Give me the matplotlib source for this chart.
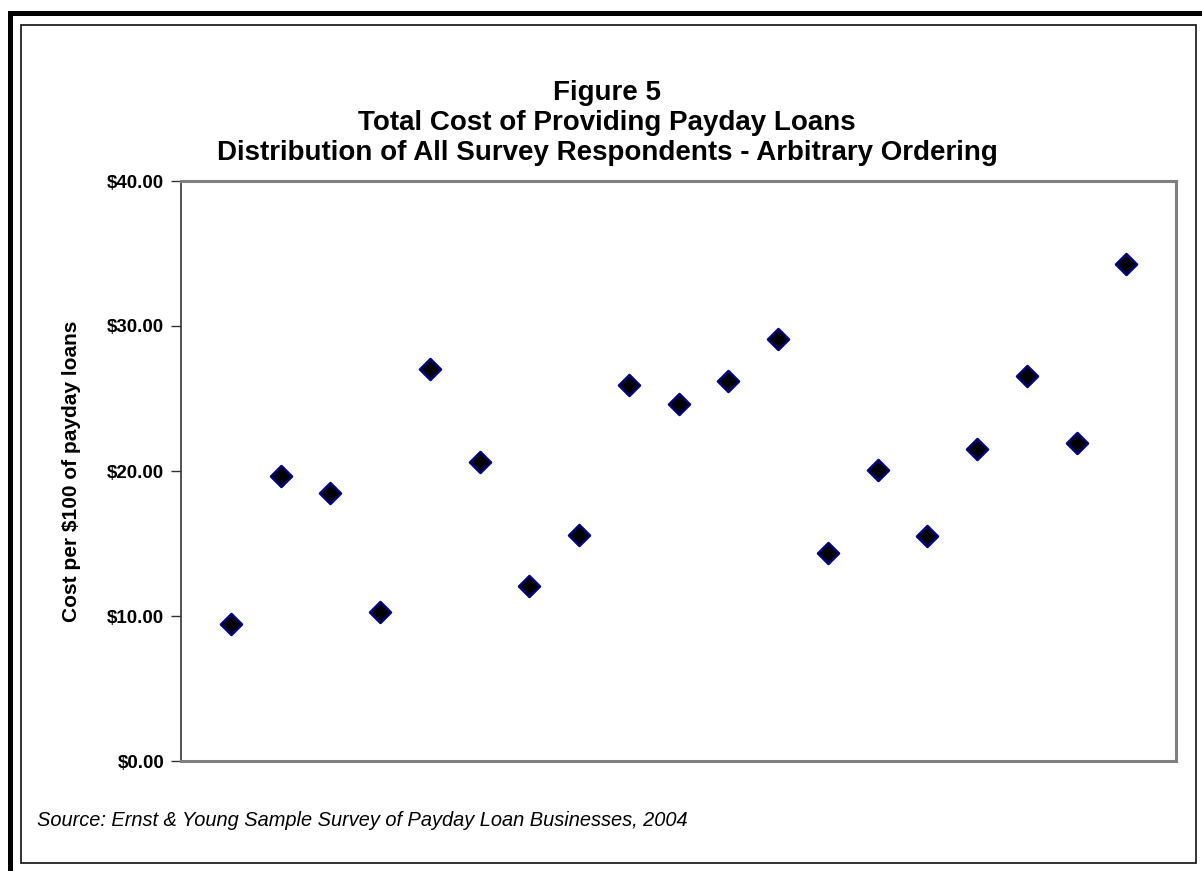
import matplotlib
matplotlib.use("Agg")
import matplotlib.pyplot as plt
from matplotlib.patches import Rectangle
from matplotlib.lines import Line2D
from matplotlib.ticker import FuncFormatter, MultipleLocator

# Respondents in arbitrary order and their cost per $100 of payday loans
respondents = list(range(1, 20))
cost_per_100 = [9.45, 19.65, 18.45, 10.25, 27.0, 20.65, 12.05, 15.6, 25.9,
                24.6, 26.2, 29.1, 14.35, 20.05, 15.55, 21.5, 26.55, 21.95, 34.25]

title_lines = ["Figure 5",
               "Total Cost of Providing Payday Loans",
               "Distribution of All Survey Respondents - Arbitrary Ordering"]
y_label = "Cost per $100 of payday loans"
source_note = "Source: Ernst & Young Sample Survey of Payday Loan Businesses, 2004"

plt.rcParams['font.family'] = ['Liberation Sans', 'DejaVu Sans']

W, H = 1202, 871
fig = plt.figure(figsize=(W / 100, H / 100), dpi=100)
fig.patch.set_facecolor("white")

# Page frame: heavy rule on the left and top, thin box around the chart
fig.add_artist(Line2D([9.5 / W, 9.5 / W], [0, 1 - 13 / H], transform=fig.transFigure,
                      color="black", lw=3.6, solid_capstyle="projecting"))
fig.add_artist(Line2D([9.5 / W, 1.0], [1 - 13 / H, 1 - 13 / H], transform=fig.transFigure,
                      color="black", lw=3.6, solid_capstyle="projecting"))
fig.add_artist(Rectangle((21 / W, 1 - 863 / H), (1196 - 21) / W, (863 - 25) / H,
                         transform=fig.transFigure, fill=False,
                         edgecolor="#222222", lw=1.3))

ax_left, ax_right, ax_top, ax_bottom = 181, 1176, 181, 761
ax = fig.add_axes([ax_left / W, 1 - ax_bottom / H,
                   (ax_right - ax_left) / W, (ax_bottom - ax_top) / H])
ax.scatter(respondents, cost_per_100, marker="D", s=115, c="black",
           edgecolors="#000080", linewidths=1.8, zorder=3, clip_on=False)

ax.set_xlim(0, 20)
ax.set_ylim(0, 40)
ax.yaxis.set_major_locator(MultipleLocator(10))
ax.yaxis.set_major_formatter(FuncFormatter(lambda v, p: f"${v:.2f}"))
ax.set_xticks([])
ax.tick_params(axis="y", direction="out", length=7, width=1, color="#333333",
               labelsize=13.5, pad=5)
for lab in ax.get_yticklabels():
    lab.set_fontweight("bold")

for side in ("top", "right", "bottom"):
    ax.spines[side].set_color("#808080")
    ax.spines[side].set_linewidth(2.2)
ax.spines["left"].set_color("#333333")
ax.spines["left"].set_linewidth(1.2)

ax.set_ylabel(y_label, fontsize=15, fontweight="bold")
ax.yaxis.set_label_coords((72 - ax_left) / (ax_right - ax_left), 0.5)
ax.yaxis.label.set_va("center")

for i, line in enumerate(title_lines):
    fig.text(607 / W, 1 - (93 + 30 * i) / H, line, ha="center", va="center",
             fontsize=20, fontweight="bold")

fig.text(37 / W, 1 - 820 / H, source_note, ha="left", va="center",
         fontsize=14.4, style="italic")

fig.savefig("out.png", dpi=100)
